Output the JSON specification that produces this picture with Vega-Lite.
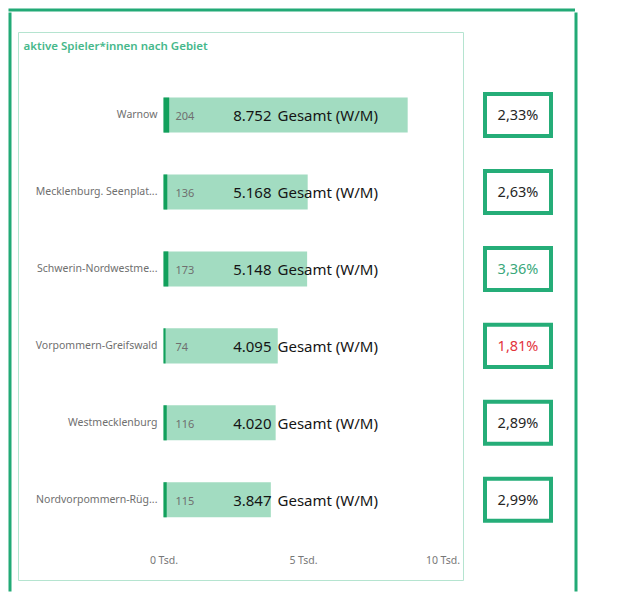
{
  "$schema": "https://vega.github.io/schema/vega-lite/v6.json",
  "padding": {"left": 8, "top": 8, "right": 0, "bottom": 0},
  "background": "white",
  "config": {
    "font": "Noto Sans",
    "view": {"stroke": null},
    "locale": {"number": {"decimal": ",", "thousands": ".", "grouping": [3], "currency": ["", " €"]}}
  },
  "datasets": {
    "gebiete": [
      {"gebiet": "Warnow", "gesamt": 8752, "neu": 204, "anteil": 0.0233},
      {"gebiet": "Mecklenburg. Seenplat...", "gesamt": 5168, "neu": 136, "anteil": 0.0263},
      {"gebiet": "Schwerin-Nordwestme...", "gesamt": 5148, "neu": 173, "anteil": 0.0336},
      {"gebiet": "Vorpommern-Greifswald", "gesamt": 4095, "neu": 74, "anteil": 0.0181},
      {"gebiet": "Westmecklenburg", "gesamt": 4020, "neu": 116, "anteil": 0.0289},
      {"gebiet": "Nordvorpommern-Rüg...", "gesamt": 3847, "neu": 115, "anteil": 0.0299}
    ]
  },
  "vconcat": [
    {"width": 563.5, "height": 0.01, "data": {"values": []}, "mark": "text", "view": {"stroke": "#22aa76", "strokeWidth": 3}},
    {
      "hconcat": [
        {"width": 0.01, "height": 576, "data": {"values": []}, "mark": "text", "view": {"stroke": "#22aa76", "strokeWidth": 3}},
        {
          "vconcat": [
            {"width": 550.5, "height": 0.01, "data": {"values": []}, "mark": "text"},
            {
              "hconcat": [
                {
                  "width": 445,
                  "height": 548,
                  "view": {"stroke": "#b5e4d0", "strokeWidth": 1},
                  "title": {"text": "aktive Spieler*innen nach Gebiet", "anchor": "start", "frame": "group", "offset": -20, "dx": 5.5, "fontSize": 11.5, "fontWeight": 600, "color": "#46b88b"},
                  "data": {"name": "gebiete"},
                  "encoding": {
                    "y": {"field": "gebiet", "type": "nominal", "sort": null,
                      "scale": {"paddingInner": 0.5443, "paddingOuter": 0.8333, "align": 0.511},
                      "axis": {"orient": "left", "offset": -139, "labelPadding": 0, "ticks": false, "domain": false, "labelColor": "#6f6f6f", "labelFontSize": 10.5, "labelLimit": 200, "title": null}}
                  },
                  "layer": [
                    {"mark": {"type": "bar", "color": "#a2dcc1"},
                     "encoding": {"x": {"field": "gesamt", "type": "quantitative",
                       "scale": {"domain": [0, 10000], "range": [145.5, 424.5]},
                       "axis": {"orient": "bottom", "offset": -25, "labelPadding": 0, "ticks": false, "domain": false, "grid": false, "values": [0, 5000, 10000], "labelExpr": "datum.value / 1000 + ' Tsd.'", "labelFlush": false, "labelColor": "#777777", "labelFontSize": 10.5, "title": null}}}},
                    {"mark": {"type": "bar", "color": "#12a05c"},
                     "encoding": {"x": {"field": "neu", "type": "quantitative"}}},
                    {"mark": {"type": "text", "align": "left", "dx": 12, "dy": 2, "fontSize": 11, "color": "#6f6f6f"},
                     "encoding": {"x": {"datum": 0, "type": "quantitative"}, "text": {"field": "neu", "type": "quantitative", "format": "d"}}},
                    {"mark": {"type": "text", "align": "right", "dx": 108, "dy": 1, "fontSize": 15, "color": "#151515"},
                     "encoding": {"x": {"datum": 0, "type": "quantitative"}, "text": {"field": "gesamt", "type": "quantitative", "format": ",d"}}},
                    {"mark": {"type": "text", "align": "left", "dx": 114, "dy": 1, "fontSize": 15, "color": "#151515"},
                     "encoding": {"x": {"datum": 0, "type": "quantitative"}, "text": {"value": "Gesamt (W/M)"}}}
                  ]
                },
                {
                  "width": 66,
                  "height": 548,
                  "data": {"name": "gebiete"},
                  "encoding": {
                    "y": {"field": "gebiet", "type": "nominal", "sort": null,
                      "scale": {"paddingInner": 0.5443, "paddingOuter": 0.8333, "align": 0.511}, "axis": null}
                  },
                  "layer": [
                    {"mark": {"type": "bar", "fill": "white", "stroke": "#25ad78", "strokeWidth": 4, "height": {"band": 1.2}}},
                    {"mark": {"type": "text", "fontSize": 14.5, "dy": 1},
                     "encoding": {"text": {"field": "anteil", "type": "quantitative", "format": ".2%"},
                       "color": {"condition": [{"test": "datum.anteil >= 0.03", "value": "#3aa87b"}, {"test": "datum.anteil < 0.02", "value": "#e3343c"}], "value": "#262626"}}}
                  ]
                }
              ],
              "spacing": 19
            }
          ],
          "spacing": 16
        },
        {"width": 0.01, "height": 576, "data": {"values": []}, "mark": "text", "view": {"stroke": "#22aa76", "strokeWidth": 3}}
      ],
      "spacing": 5
    }
  ],
  "spacing": 0
}
